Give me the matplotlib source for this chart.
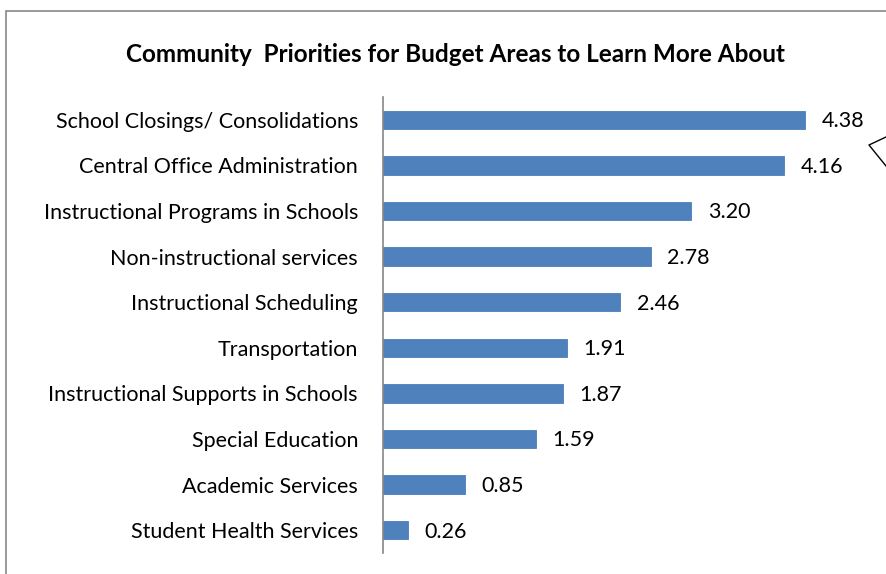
import numpy as np
import matplotlib.pyplot as plt
from matplotlib.patches import Rectangle
from matplotlib.lines import Line2D

plt.rcParams['font.family'] = ['Lato', 'DejaVu Sans']

categories = ["School Closings/ Consolidations", "Central Office Administration",
              "Instructional Programs in Schools", "Non-instructional services",
              "Instructional Scheduling", "Transportation",
              "Instructional Supports in Schools", "Special Education",
              "Academic Services", "Student Health Services"]
scores = [4.38, 4.16, 3.20, 2.78, 2.46, 1.91, 1.87, 1.59, 0.85, 0.26]

fig = plt.figure(figsize=(8.86, 5.74), dpi=100)
ax = fig.add_axes([383/886, 1-553/574, 5*96.3/886, 456/574])

y = np.arange(len(categories))[::-1]
ax.barh(y, scores, height=0.4, color='#4f81bd', edgecolor='#4a7ebb', linewidth=0.6)
for yi, v in zip(y, scores):
    ax.annotate(f"{v:.2f}", (v, yi), xytext=(12, -1), textcoords='offset points',
                va='center', ha='left', fontsize=15.5)

ax.set_ylim(-0.5, 9.5)
ax.set_xlim(0, 5)
ax.set_yticks(y)
ax.set_yticklabels(categories, fontsize=15.5)
ax.tick_params(axis='y', length=0, pad=18)
ax.set_xticks([])
for s in ['top', 'right', 'bottom']:
    ax.spines[s].set_visible(False)
ax.spines['left'].set_color('#868686')
ax.spines['left'].set_linewidth(1.2)

fig.text(456/886, 1-54/574, "Community  Priorities for Budget Areas to Learn More About",
         ha='center', va='center', fontsize=17.5, fontweight='bold')

# chart frame
fig.patches.append(Rectangle((6/886, -0.1), 1.2, 1-11/574+0.1, transform=fig.transFigure,
                             fill=False, edgecolor='#888888', linewidth=1.2))
# callout edge at the right
fig.lines.append(Line2D([886/886, 869/886, 886/886], [1-137/574, 1-145/574, 1-166/574],
                        transform=fig.transFigure, color='black', linewidth=1))

fig.savefig('out.png', dpi=100)
